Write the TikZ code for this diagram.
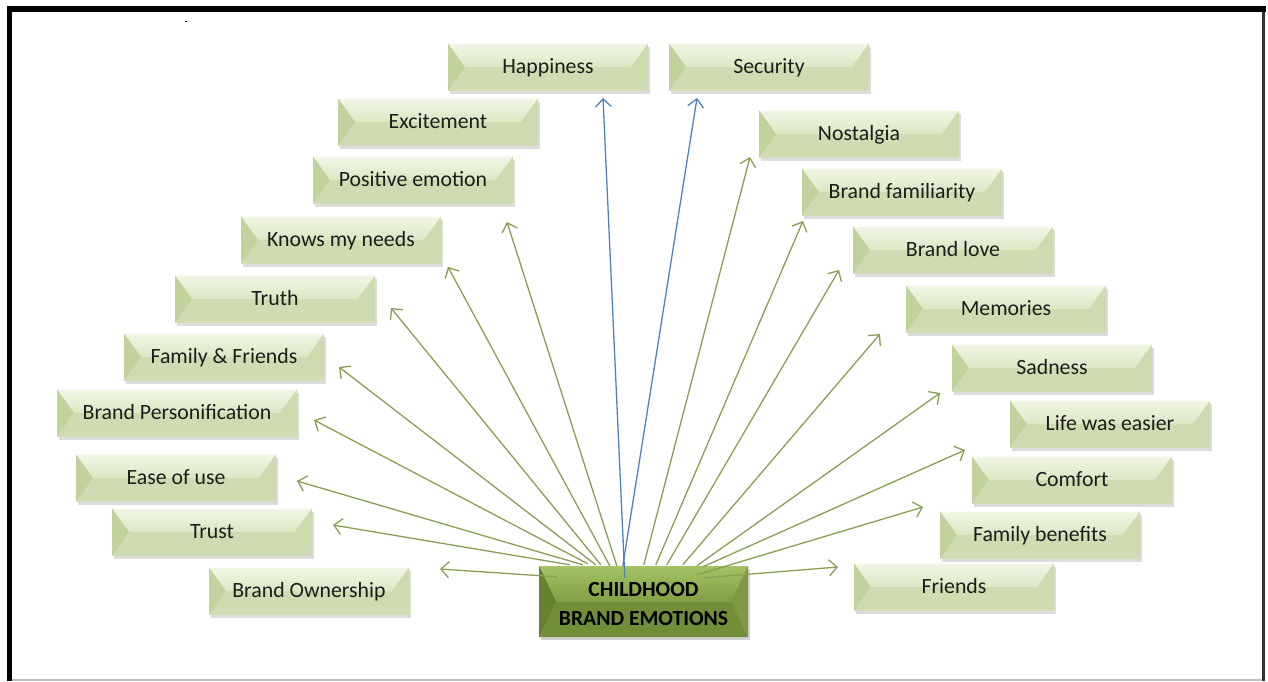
\documentclass[tikz,border=0pt]{standalone}
\usepackage{fontspec}
\setmainfont{Carlito}
\usetikzlibrary{arrows.meta,calc,shadows}

% palette
\definecolor{leafface}{HTML}{D7E4BD}
\definecolor{leaftopA}{HTML}{F1F6E6}
\definecolor{leaftopB}{HTML}{DCE7C4}
\definecolor{leafleft}{HTML}{C2D29D}
\definecolor{leafright}{HTML}{CDDBAE}
\definecolor{leafbottom}{HTML}{CFDCB1}
\definecolor{hubtopA}{HTML}{A6C266}
\definecolor{hubtopB}{HTML}{829F45}
\definecolor{hubleft}{HTML}{67812F}
\definecolor{hubright}{HTML}{7D9A42}
\definecolor{hubbottom}{HTML}{728E39}
\definecolor{linkgreen}{HTML}{87A053}
\definecolor{linkblue}{HTML}{4F81BD}
\definecolor{inktext}{HTML}{1C1C1C}

% bevelled faces: #1 inset, #2/#3 top gradient, #4 left, #5 right, #6 bottom
\newcommand\bevelfaces[6]{%
  \coordinate (bNW) at (path picture bounding box.north west);
  \coordinate (bNE) at (path picture bounding box.north east);
  \coordinate (bSW) at (path picture bounding box.south west);
  \coordinate (bSE) at (path picture bounding box.south east);
  \coordinate (bW) at ($(path picture bounding box.west)+(#1,0pt)$);
  \coordinate (bE) at ($(path picture bounding box.east)-(#1,0pt)$);
  \fill[#6] (bSW) -- (bSE) -- (bE) -- (bW) -- cycle;
  \shade[top color=#2, bottom color=#3] (bNW) -- (bNE) -- (bE) -- (bW) -- cycle;
  \fill[#4] (bNW) -- (bW) -- (bSW) -- cycle;
  \fill[#5] (bNE) -- (bE) -- (bSE) -- cycle;
}

\tikzset{
  leaf/.style={rectangle, minimum width=200pt, minimum height=47pt,
    inner sep=0pt, fill=leafface, text=inktext,
    text height=17pt, text depth=4pt,
    font=\fontsize{21.8}{26}\selectfont,
    drop shadow={shadow xshift=2pt, shadow yshift=-3pt, opacity=.28},
    path picture={\bevelfaces{17pt}{leaftopA}{leaftopB}{leafleft}{leafright}{leafbottom}}},
  hub/.style={rectangle, minimum width=209pt, minimum height=71pt,
    inner sep=0pt, fill=hubbottom, text=black, align=center,
    text height=47pt, text depth=0pt,
    font=\bfseries\fontsize{21.6}{29}\selectfont,
    drop shadow={shadow xshift=2pt, shadow yshift=-3pt, opacity=.35},
    path picture={\bevelfaces{17pt}{hubtopA}{hubtopB}{hubleft}{hubright}{hubbottom}}},
  link/.style={draw=linkgreen, line width=1.3pt,
    -{Straight Barb[length=8pt,width=16pt,line width=1.3pt]}},
  bluelink/.style={link, draw=linkblue},
}

\begin{document}
\begin{tikzpicture}[x=1pt, y=-1pt]
  \useasboundingbox (0,0) rectangle (1268,681);

  % frame
  \fill[black] (7,6) rectangle (1266,12);
  \fill[black] (7,6) rectangle (12,681);
  \fill[black!80] (1262,12) rectangle (1265,681);
  \fill[black!25] (12,679) rectangle (1262,681);
  \fill[black] (185,20.5) rectangle (187,21.5);

  % hub
  \node[hub] (hub) at (643.5,601.5) {CHILDHOOD\\BRAND EMOTIONS};

  % left column
  \node[leaf] (happiness)   at (548,67)  {Happiness};
  \node[leaf] (excitement)  at (438,122) {Excitement};
  \node[leaf] (positive)    at (413,180) {Positive emotion};
  \node[leaf] (knows)       at (341,240) {Knows my needs};
  \node[leaf] (truth)       at (275,299) {Truth};
  \node[leaf] (famfriends)  at (224,357) {Family \& Friends};
  \node[leaf, minimum width=240pt] (personif) at (177,413) {Brand Personification};
  \node[leaf] (ease)        at (176,478) {Ease of use};
  \node[leaf] (trust)       at (212,532) {Trust};
  \node[leaf] (ownership)   at (309,591) {Brand Ownership};

  % right column
  \node[leaf] (security)    at (769,67)  {Security};
  \node[leaf] (nostalgia)   at (859,134) {Nostalgia};
  \node[leaf] (familiar)    at (902,192) {Brand familiarity};
  \node[leaf] (love)        at (953,250) {Brand love};
  \node[leaf] (memories)    at (1006,309) {Memories};
  \node[leaf] (sadness)     at (1052,368) {Sadness};
  \node[leaf] (easier)      at (1110,424) {Life was easier};
  \node[leaf] (comfort)     at (1072,480) {Comfort};
  \node[leaf] (benefits)    at (1040,535) {Family benefits};
  \node[leaf] (friends)     at (954,587) {Friends};

  % arrow tips
  \coordinate (tOwn)   at (440,569);
  \coordinate (tTrust) at (333,525);
  \coordinate (tEase)  at (297,481);
  \coordinate (tPers)  at (314,420);
  \coordinate (tFamF)  at (339,367);
  \coordinate (tTruth) at (391,308);
  \coordinate (tKnows) at (448,267);
  \coordinate (tPos)   at (507,222);
  \coordinate (tHap)   at (603,98);
  \coordinate (tSec)   at (697,98);
  \coordinate (tNost)  at (750,157);
  \coordinate (tFam)   at (803,221);
  \coordinate (tLove)  at (839,270);
  \coordinate (tMem)   at (880,334);
  \coordinate (tSad)   at (940,393);
  \coordinate (tEasy)  at (965,450);
  \coordinate (tComf)  at (923,507);
  \coordinate (tFri)   at (838,567);

  % connectors from the hub
  \draw[link] ([shift={(18,11)}]hub.north west)  -- (tOwn);
  \draw[link] ([shift={(31,-1)}]hub.north west)  -- (tTrust);
  \draw[link] ([shift={(44,-1)}]hub.north west)  -- (tEase);
  \draw[link] ([shift={(49,-2)}]hub.north west)  -- (tPers);
  \draw[link] ([shift={(57,-1)}]hub.north west)  -- (tFamF);
  \draw[link] ([shift={(62,-1)}]hub.north west)  -- (tTruth);
  \draw[link] ([shift={(71,0)}]hub.north west)   -- (tKnows);
  \draw[link] ([shift={(78,0)}]hub.north west)   -- (tPos);
  \draw[bluelink] ([shift={(86,12)}]hub.north west) -- (tHap);
  \draw[bluelink] ([shift={(84,0)}]hub.north west)  -- (tSec);
  \draw[link] ([shift={(105,-1)}]hub.north west) -- (tNost);
  \draw[link] ([shift={(117,-1)}]hub.north west) -- (tFam);
  \draw[link] ([shift={(128,-1)}]hub.north west) -- (tLove);
  \draw[link] ([shift={(144,-1)}]hub.north west) -- (tMem);
  \draw[link] ([shift={(158,0)}]hub.north west)  -- (tSad);
  \draw[link] ([shift={(164,1)}]hub.north west)  -- (tEasy);
  \draw[link] ([shift={(158,9)}]hub.north west)  -- (tComf);
  \draw[link] ([shift={(165,12)}]hub.north west) -- (tFri);
\end{tikzpicture}
\end{document}
